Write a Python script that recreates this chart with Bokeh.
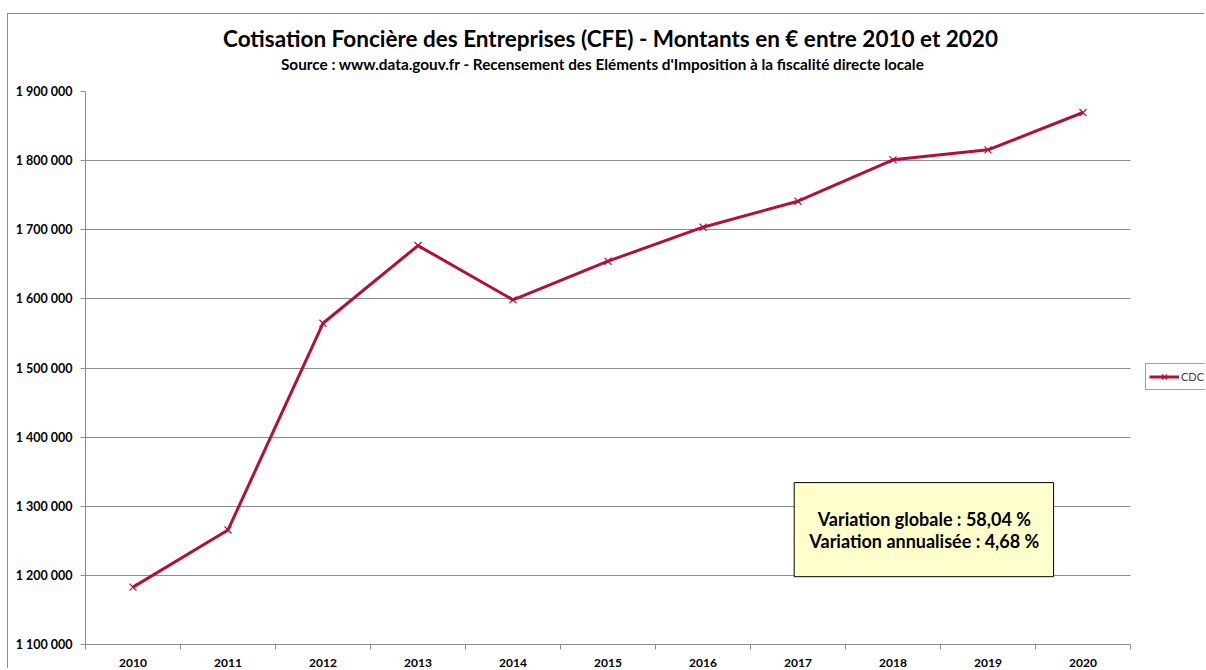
from bokeh.plotting import figure
from bokeh.models import (ColumnDataSource, Range1d, FixedTicker, Title,
                          BoxAnnotation, Label, Legend, LegendItem)
from bokeh.embed import file_html
from bokeh.resources import INLINE

# ---- data ----
years = ["2010", "2011", "2012", "2013", "2014", "2015", "2016", "2017", "2018", "2019", "2020"]
values = [1183000, 1265700, 1564700, 1677100, 1598600, 1654500, 1703700, 1741300, 1801100, 1815600, 1869600]
y_ticks = [1100000, 1200000, 1300000, 1400000, 1500000, 1600000, 1700000, 1800000, 1900000]
y_tick_labels = ["1 100 000", "1 200 000", "1 300 000", "1 400 000", "1 500 000",
                 "1 600 000", "1 700 000", "1 800 000", "1 900 000"]
series_name = "CDC"
title_text = "Cotisation Foncière des Entreprises (CFE) - Montants en € entre 2010 et 2020"
subtitle_text = "Source : www.data.gouv.fr - Recensement des Eléments d'Imposition à la fiscalité directe locale"
summary_lines = ["Variation globale : 58,04 %", "Variation annualisée : 4,68 %"]

FONT = "Lato"
LINE_COLOR = "#B0103A"
GRID_COLOR = "#8C8C8C"

# layout geometry (pixels)
FIG_W, FIG_H = 1197, 655
BORDER_L, BORDER_T, BORDER_B = 77, 77, 25
PLOT_W = 1045            # width of the actual plotting area
FRAME_W = FIG_W - BORDER_L   # frame extends to the right edge to host the legend

n = len(years)
x_start = -0.5
x_end = x_start + n * FRAME_W / PLOT_W
x_plot_end = x_start + n

xs = list(range(n))
source = ColumnDataSource(dict(x=xs, year=years, value=values))

p = figure(width=FIG_W, height=FIG_H,
           x_range=Range1d(x_start, x_end),
           y_range=Range1d(y_ticks[0], y_ticks[-1]),
           output_backend="svg", toolbar_location=None,
           min_border_left=BORDER_L, min_border_top=BORDER_T, min_border_right=0,
           min_border_bottom=BORDER_B,
           outline_line_color=None, background_fill_color="white", border_fill_color="white")
p.styles = {"border-top": "1px solid #8C8C8C", "border-left": "1px solid #8C8C8C",
            "margin-top": "13px", "margin-left": "7px"}

# titles (subtitle first so it sits closest to the plot)
p.add_layout(Title(text=subtitle_text, align="left", offset=PLOT_W / 2 - 327,
                   text_font=FONT, text_font_size="15.3px",
                   text_font_style="bold", text_color="black", standoff=38), "above")
p.add_layout(Title(text=title_text, align="left", offset=PLOT_W / 2 - 385,
                   text_font=FONT, text_font_size="22.5px",
                   text_font_style="bold", text_color="black", standoff=-37), "above")

# axes
p.xaxis.ticker = FixedTicker(ticks=xs, minor_ticks=[i - 0.5 for i in range(n + 1)])
p.xaxis.bounds = (x_start, x_plot_end)
p.xaxis.major_label_overrides = {i: y for i, y in enumerate(years)}
p.xaxis.major_tick_line_color = None
p.xaxis.major_tick_out = 0
p.xaxis.major_tick_in = 0
p.xaxis.minor_tick_line_color = GRID_COLOR
p.xaxis.minor_tick_out = 5
p.xaxis.minor_tick_in = 0
p.xaxis.axis_line_color = GRID_COLOR
p.xaxis.major_label_standoff = 9
p.xaxis.major_label_text_font = FONT
p.xaxis.major_label_text_font_size = "12px"
p.xaxis.major_label_text_font_style = "bold"
p.xaxis.major_label_text_color = "black"

p.yaxis.ticker = FixedTicker(ticks=y_ticks)
p.yaxis.major_label_overrides = {t: l for t, l in zip(y_ticks, y_tick_labels)}
p.yaxis.minor_tick_line_color = None
p.yaxis.major_tick_line_color = GRID_COLOR
p.yaxis.major_tick_out = 5
p.yaxis.major_tick_in = 0
p.yaxis.axis_line_color = GRID_COLOR
p.yaxis.major_label_standoff = 8
p.yaxis.major_label_text_font = FONT
p.yaxis.major_label_text_font_size = "12.5px"
p.yaxis.major_label_text_font_style = "bold"
p.yaxis.major_label_text_color = "black"

p.xgrid.visible = False
p.ygrid.ticker = FixedTicker(ticks=y_ticks)
p.ygrid.grid_line_color = GRID_COLOR
p.ygrid.grid_line_width = 1

# series
r_line = p.line("x", "value", source=source, line_color=LINE_COLOR, line_width=3)
r_pts = p.scatter("x", "value", source=source, marker="x", size=10,
                  line_color=LINE_COLOR, line_width=1.2)

# white mask: end gridlines at the plotting area's right edge
p.add_layout(BoxAnnotation(left=x_plot_end, fill_color="white", fill_alpha=1.0,
                           line_color=None, level="underlay"))

legend = Legend(items=[LegendItem(label=series_name, renderers=[r_line, r_pts])],
                location=(PLOT_W + 15, 254), orientation="vertical",
                border_line_color="#404040", border_line_width=1,
                label_text_font=FONT, label_text_font_size="11px", label_text_color="#404040",
                glyph_width=30, glyph_height=19, label_standoff=2, padding=3, margin=0,
                spacing=0, label_height=19)
p.add_layout(legend)

# summary box
p.add_layout(BoxAnnotation(left=6.96, right=9.69, top=1334200, bottom=1198100,
                           fill_color="#FFFFCC", fill_alpha=1.0,
                           line_color="black", line_width=1, line_alpha=1.0))
for txt, yy in zip(summary_lines, [1282000, 1250200]):
    p.add_layout(Label(x=8.33, y=yy, text=txt, text_align="center", text_baseline="middle",
                       text_font=FONT, text_font_size="18px", text_font_style="bold",
                       text_color="black"))

open("out.html", "w").write(file_html(p, INLINE))
